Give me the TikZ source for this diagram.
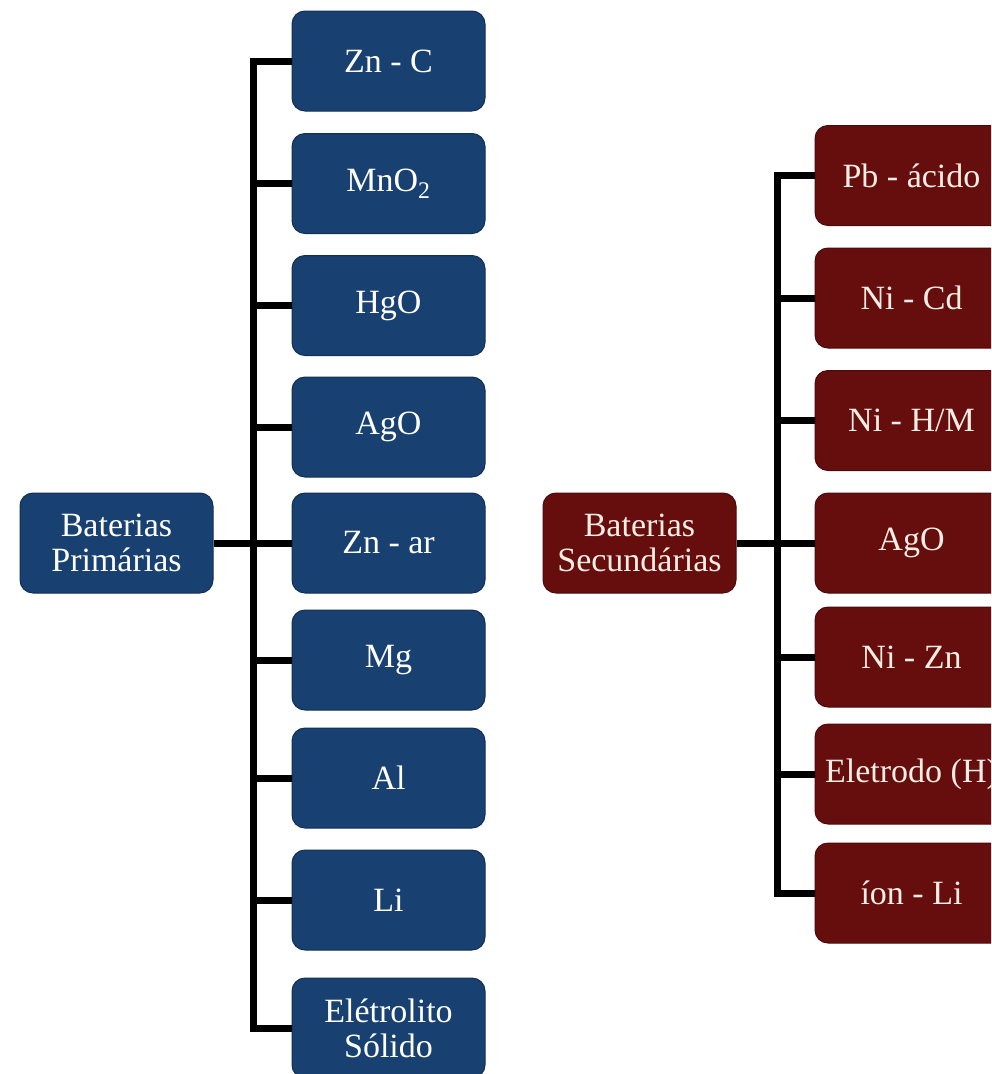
\documentclass[tikz,border=0pt]{standalone}
\usepackage{fontspec}
\setmainfont{Liberation Serif}
\usepackage{xcolor}
\usepackage{tikz}
\usetikzlibrary{positioning}
\definecolor{primblue}{RGB}{24,64,113}
\definecolor{secred}{RGB}{102,14,14}
\definecolor{cream}{RGB}{250,238,228}
\tikzset{%
  primbox/.style = {draw=primblue!75!black, line width=1pt, fill=primblue, text=white,
    rectangle, rounded corners=13pt, minimum height=100pt, minimum width=193pt,
    align=center, font=\fontsize{34}{35}\selectfont}, % Blue box
  secbox/.style  = {primbox, draw=secred!75!black, fill=secred, text=cream}, % Red box
  conn/.style    = {line width=7pt, line join=miter} % Connector
}

\begin{document}
\begin{tikzpicture}[x=1pt, y=-1pt]

  \useasboundingbox (0,0) rectangle (991,1074);
  \clip (0,0) rectangle (991,1074);

  % Baterias primarias
  \draw node at (116.5,543) [primbox] (prim) {Baterias\\Primárias};
  \draw node at (388.5,61) [primbox] (znc) {Zn - C};
  \draw node at (388.5,183.5) [primbox] (mno) {MnO\textsubscript{2}};
  \draw node at (388.5,305.5) [primbox] (hgo) {HgO};
  \draw node at (388.5,427) [primbox] (agop) {AgO};
  \draw node at (388.5,543) [primbox] (znar) {Zn - ar};
  \draw node at (388.5,660) [primbox] (mg) {Mg};
  \draw node at (388.5,778) [primbox] (al) {Al};
  \draw node at (388.5,900) [primbox] (lip) {Li};
  \draw node at (388.5,1028) [primbox] (sol) {Elétrolito\\Sólido};
  \coordinate (lt) at (253,0);

  % Baterias secundarias
  \draw node at (639.5,543) [secbox] (sec) {Baterias\\Secundárias};
  \draw node at (911.5,175.5) [secbox] (pb) {Pb - ácido};
  \draw node at (911.5,298) [secbox] (nicd) {Ni - Cd};
  \draw node at (911.5,420.5) [secbox] (nihm) {Ni - H/M};
  \draw node at (911.5,543) [secbox] (agos) {AgO};
  \draw node at (911.5,657) [secbox] (nizn) {Ni - Zn};
  \draw node at (911.5,774) [secbox] (eltr) {Eletrodo (H)};
  \draw node at (911.5,893) [secbox] (ionli) {íon - Li};
  \coordinate (rt) at (777,0);

  \draw[conn] (znc.west) -- (lt |- znc.west) -- (lt |- sol.west) -- (sol.west);
  \draw[conn] (prim.east) -- (znar.west);
  \draw[conn] (lt |- mno.west) -- (mno.west);
  \draw[conn] (lt |- hgo.west) -- (hgo.west);
  \draw[conn] (lt |- agop.west) -- (agop.west);
  \draw[conn] (lt |- mg.west) -- (mg.west);
  \draw[conn] (lt |- al.west) -- (al.west);
  \draw[conn] (lt |- lip.west) -- (lip.west);

  \draw[conn] (pb.west) -- (rt |- pb.west) -- (rt |- ionli.west) -- (ionli.west);
  \draw[conn] (sec.east) -- (agos.west);
  \draw[conn] (rt |- nicd.west) -- (nicd.west);
  \draw[conn] (rt |- nihm.west) -- (nihm.west);
  \draw[conn] (rt |- nizn.west) -- (nizn.west);
  \draw[conn] (rt |- eltr.west) -- (eltr.west);

\end{tikzpicture}
\end{document}
